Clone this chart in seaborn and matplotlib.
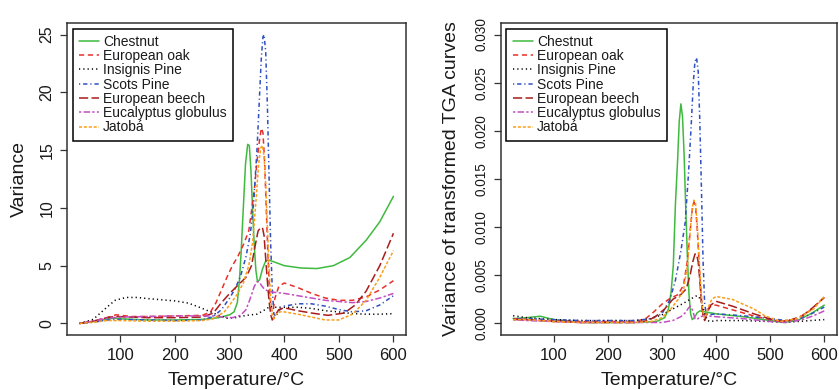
import matplotlib
matplotlib.use("Agg")
import matplotlib.pyplot as plt
import seaborn as sns
import pandas as pd

# ---------------- data (left panel: Variance) ----------------
names = ["Chestnut", "European oak", "Insignis Pine", "Scots Pine",
         "European beech", "Eucalyptus globulus", "Jatobá"]

chestnut_T = [25, 50, 75, 90, 100, 150, 200, 250, 280, 300, 308, 314, 318, 321, 325, 329, 333, 336, 339, 342,
              345, 348, 351, 355, 360, 365, 370, 380, 400, 430, 460, 490, 520, 550, 575, 600]
chestnut_V = [0, 0.15, 0.4, 0.45, 0.4, 0.3, 0.3, 0.35, 0.5, 0.75, 1.0, 1.8, 3.8, 6.2, 10.0, 13.8, 15.5, 15.4, 13.2, 9.8,
              6.8, 4.6, 3.6, 3.8, 4.7, 5.3, 5.5, 5.35, 5.0, 4.8, 4.75, 5.0, 5.7, 7.2, 8.8, 11.0]

oak_T = [25, 50, 75, 92, 120, 150, 200, 250, 265, 275, 285, 295, 305, 315, 325, 335, 345, 350, 355, 358,
         361, 364, 367, 370, 373, 376, 379, 383, 390, 400, 425, 450, 475, 500, 525, 550, 575, 600]
oak_V = [0, 0.2, 0.5, 0.75, 0.6, 0.6, 0.65, 0.7, 1.0, 1.8, 2.9, 4.0, 5.0, 5.8, 6.8, 8.0, 11.5, 14.0, 16.0, 16.9,
         16.5, 14.0, 10.0, 6.0, 2.8, 1.2, 1.0, 2.2, 3.2, 3.5, 3.1, 2.6, 2.2, 2.0, 2.0, 2.3, 2.9, 3.7]

insignis_T = [25, 50, 75, 90, 110, 130, 150, 175, 200, 225, 250, 265, 280, 295, 310, 330, 350, 365, 375, 385,
              400, 425, 450, 475, 500, 525, 550, 575, 600]
insignis_V = [0, 0.35, 1.4, 2.0, 2.25, 2.25, 2.15, 2.05, 1.95, 1.75, 1.3, 1.0, 0.7, 0.45, 0.5, 0.7, 0.8, 1.2, 1.5, 1.4,
              1.4, 1.4, 1.3, 1.1, 1.0, 0.85, 0.8, 0.8, 0.85]

scots_T = [25, 50, 75, 100, 150, 200, 250, 270, 285, 300, 310, 320, 330, 338, 344, 350, 354, 358, 361, 363,
           366, 369, 372, 375, 378, 381, 385, 390, 400, 425, 450, 475, 500, 525, 550, 575, 600]
scots_V = [0, 0.1, 0.3, 0.35, 0.3, 0.25, 0.3, 0.6, 1.2, 2.2, 3.0, 4.1, 5.8, 7.8, 10.5, 15.0, 19.0, 23.0, 24.8, 25.0,
           23.5, 19.0, 13.0, 7.0, 3.0, 0.8, 0.6, 1.1, 1.5, 1.7, 1.7, 1.5, 1.2, 1.0, 1.1, 1.6, 2.4]

beech_T = [25, 50, 75, 90, 120, 150, 200, 250, 270, 285, 300, 315, 330, 340, 347, 352, 356, 360, 363, 366,
           369, 372, 375, 378, 382, 390, 400, 425, 450, 480, 510, 530, 550, 575, 600]
beech_V = [0, 0.2, 0.5, 0.6, 0.55, 0.5, 0.5, 0.55, 0.9, 1.8, 2.6, 3.3, 4.0, 5.0, 6.8, 8.0, 8.25, 8.3, 7.6, 5.6,
           3.7, 2.0, 0.8, 0.3, 0.6, 1.2, 1.35, 1.1, 0.9, 0.7, 0.9, 1.6, 2.8, 5.0, 7.8]

eucal_T = [25, 50, 75, 100, 150, 200, 250, 270, 290, 305, 320, 330, 338, 345, 350, 354, 358, 363, 370, 380,
           400, 425, 450, 475, 500, 525, 550, 575, 600]
eucal_V = [0, 0.2, 0.45, 0.55, 0.6, 0.65, 0.65, 0.65, 0.55, 0.5, 0.7, 1.2, 2.2, 3.2, 3.6, 3.6, 3.3, 3.0, 2.8, 2.7,
           2.6, 2.4, 2.2, 2.0, 1.9, 1.8, 1.9, 2.2, 2.6]

jatoba_T = [25, 50, 75, 100, 150, 200, 250, 270, 290, 300, 315, 325, 335, 342, 348, 353, 357, 360, 363, 366,
            369, 372, 375, 378, 381, 385, 392, 400, 425, 450, 475, 500, 525, 550, 575, 600]
jatoba_V = [0, 0.1, 0.25, 0.25, 0.2, 0.2, 0.25, 0.4, 1.0, 1.6, 2.6, 3.5, 5.0, 7.0, 10.5, 13.8, 15.2, 15.4, 14.5, 12.0,
            8.5, 5.0, 2.2, 0.7, 0.4, 0.8, 1.0, 1.0, 0.8, 0.55, 0.3, 0.3, 0.8, 2.0, 4.0, 6.3]

# ---------------- data (right panel: variance of transformed TGA curves) ----------------
chestnut_T2 = [25, 50, 75, 100, 150, 200, 250, 290, 305, 312, 317, 321, 325, 329, 332, 335, 338, 341, 344, 347,
               350, 353, 356, 360, 365, 370, 380, 400, 450, 500, 525, 550, 575, 600]
chestnut_V2 = [0.0005, 0.0006, 0.00075, 0.0004, 0.0001, 0.0001, 0.0001, 0.0002, 0.0006, 0.0015, 0.0033, 0.0060,
               0.0125, 0.0170, 0.0210, 0.0228, 0.0215, 0.0175, 0.0120, 0.0070, 0.0030, 0.0010, 0.0004, 0.0006,
               0.0011, 0.0013, 0.0012, 0.0010, 0.0007, 0.0003, 0.0001, 0.0003, 0.0010, 0.0019]

oak_T2 = [25, 50, 100, 150, 200, 250, 270, 285, 300, 315, 330, 340, 347, 352, 356, 359, 362, 365, 368, 371,
          374, 377, 380, 385, 393, 400, 425, 450, 475, 500, 520, 550, 575, 600]
oak_V2 = [0.0005, 0.0004, 0.0003, 0.0002, 0.0002, 0.0002, 0.0005, 0.0012, 0.0020, 0.0026, 0.0030, 0.0040, 0.0065,
          0.0095, 0.0118, 0.0126, 0.0122, 0.0100, 0.0070, 0.0040, 0.0018, 0.0008, 0.0009, 0.0015, 0.0019, 0.0019,
          0.0015, 0.0011, 0.0007, 0.0004, 0.0002, 0.0005, 0.0014, 0.0027]

insignis_T2 = [25, 50, 100, 150, 200, 250, 280, 300, 320, 340, 355, 365, 372, 378, 384, 390, 400, 450, 500, 525,
               550, 575, 600]
insignis_V2 = [0.0008, 0.0006, 0.0004, 0.0003, 0.0003, 0.0003, 0.0005, 0.0009, 0.0015, 0.0021, 0.0026, 0.0029,
               0.0025, 0.0012, 0.0003, 0.0002, 0.0003, 0.0003, 0.0002, 0.0001, 0.0002, 0.0003, 0.0004]

scots_T2 = [25, 50, 100, 150, 200, 250, 280, 300, 315, 325, 335, 343, 349, 354, 358, 361, 364, 367, 370, 373,
            376, 379, 382, 388, 400, 450, 500, 530, 555, 580, 600]
scots_V2 = [0.0005, 0.0005, 0.0004, 0.0003, 0.0003, 0.0003, 0.0005, 0.0010, 0.0025, 0.0045, 0.0075, 0.0105,
            0.0155, 0.0205, 0.0250, 0.0272, 0.0276, 0.0262, 0.0210, 0.0140, 0.0065, 0.0020, 0.0010, 0.0009,
            0.0010, 0.0008, 0.0005, 0.0003, 0.0005, 0.0011, 0.0017]

beech_T2 = [25, 50, 100, 150, 200, 250, 275, 290, 305, 320, 335, 345, 352, 357, 361, 364, 367, 370, 373, 376,
            379, 383, 390, 400, 430, 470, 510, 530, 560, 580, 600]
beech_V2 = [0.0004, 0.0004, 0.0002, 0.0001, 0.0001, 0.0001, 0.0003, 0.0008, 0.0015, 0.0025, 0.0030, 0.0036,
            0.0050, 0.0064, 0.0072, 0.0072, 0.0064, 0.0045, 0.0022, 0.0008, 0.0003, 0.0010, 0.0019, 0.0023,
            0.0018, 0.0010, 0.0003, 0.0002, 0.0008, 0.0017, 0.0027]

eucal_T2 = [25, 50, 100, 150, 200, 250, 300, 320, 335, 343, 349, 353, 357, 361, 365, 370, 380, 400, 450, 500,
            530, 560, 580, 600]
eucal_V2 = [0.0004, 0.0003, 0.0002, 0.0001, 0.0001, 0.0001, 0.0001, 0.0003, 0.0007, 0.0011, 0.0016, 0.0018,
            0.0013, 0.0005, 0.0004, 0.0007, 0.0008, 0.0007, 0.0005, 0.0002, 0.0001, 0.0004, 0.0008, 0.0013]

jatoba_T2 = [25, 50, 100, 150, 200, 250, 280, 300, 315, 330, 340, 347, 352, 356, 359, 362, 365, 368, 371, 374,
             377, 380, 385, 392, 400, 430, 470, 490, 520, 550, 580, 600]
jatoba_V2 = [0.0004, 0.0004, 0.0002, 0.0001, 0.0001, 0.0001, 0.0002, 0.0006, 0.0014, 0.0025, 0.0035, 0.0060,
             0.0095, 0.0120, 0.0128, 0.0125, 0.0105, 0.0075, 0.0045, 0.0020, 0.0007, 0.0006, 0.0016, 0.0025,
             0.0028, 0.0025, 0.0015, 0.0008, 0.0002, 0.0005, 0.0015, 0.0028]

x_ticks = [100, 200, 300, 400, 500, 600]
y_ticks_left = [0, 5, 10, 15, 20, 25]
y_ticks_right = [0.000, 0.005, 0.010, 0.015, 0.020, 0.025, 0.030]

# ---------------- styles ----------------
colors = ["#3fba3f", "#e8302a", "#000000", "#2f4fc2", "#a81c1c", "#c24ec2", "#fa9e1a"]
dashes = [None, (3.4, 2.4), (0.8, 2.0), (0.8, 1.9, 2.8, 1.9), (6.0, 2.2), (1.5, 1.5, 4.2, 1.5), (2.0, 1.2)]

left_series = [(chestnut_T, chestnut_V), (oak_T, oak_V), (insignis_T, insignis_V), (scots_T, scots_V),
               (beech_T, beech_V), (eucal_T, eucal_V), (jatoba_T, jatoba_V)]
right_series = [(chestnut_T2, chestnut_V2), (oak_T2, oak_V2), (insignis_T2, insignis_V2), (scots_T2, scots_V2),
                (beech_T2, beech_V2), (eucal_T2, eucal_V2), (jatoba_T2, jatoba_V2)]

sns.set_style("white")
plt.rcParams["font.family"] = ["Liberation Sans", "DejaVu Sans"]

fig = plt.figure(figsize=(8.39, 3.90), dpi=100)
ax1 = fig.add_axes([67 / 839, 1 - 335 / 390, 339 / 839, 312 / 390])
ax2 = fig.add_axes([500.7 / 839, 1 - 335 / 390, 336 / 839, 312 / 390])


def draw(ax, series, yticks, ylim, ylabel, fmt, ysize, ypad):
    for (T, V), name, c, d in zip(series, names, colors, dashes):
        df = pd.DataFrame({"T": T, "V": V})
        sns.lineplot(data=df, x="T", y="V", ax=ax, color=c, linewidth=1.1, label=name,
                     estimator=None, sort=False)
        line = ax.lines[-1]
        if d is not None:
            line.set_dashes(d)
    ax.set_xlim(2, 623)
    ax.set_ylim(*ylim)
    ax.set_xticks(x_ticks)
    ax.set_yticks(yticks)
    ax.set_yticklabels([fmt.format(v) for v in yticks])
    ax.tick_params(axis="both", direction="out", length=5, width=0.9, color="#333333",
                   labelcolor="#1a1a1a", left=True, bottom=True, pad=4)
    ax.tick_params(axis="x", labelsize=12)
    ax.tick_params(axis="y", labelrotation=90, labelsize=ysize)
    for lab in ax.get_yticklabels():
        lab.set_va("center")
    ax.set_xlabel("Temperature/°C", fontsize=14, labelpad=7, color="#1a1a1a")
    ax.set_ylabel(ylabel, fontsize=14, labelpad=ypad, color="#1a1a1a")
    for s in ax.spines.values():
        s.set_visible(True)
        s.set_color("#333333")
        s.set_linewidth(1.1)
    leg = ax.legend(loc="upper left", fontsize=10.0, frameon=True, fancybox=False, framealpha=1,
                    edgecolor="black", borderaxespad=0.4, borderpad=0.45, labelspacing=0.02,
                    handlelength=1.45, handletextpad=0.3)
    leg.get_frame().set_linewidth(1.1)
    for t in leg.get_texts():
        t.set_color("#1a1a1a")


draw(ax1, left_series, y_ticks_left, (-1.0, 26.0), "Variance", "{:g}", 11.5, 8)
draw(ax2, right_series, y_ticks_right, (-0.0012, 0.0312), "Variance of transformed TGA curves", "{:.3f}", 9.8, 10)

fig.savefig("out.png", dpi=100)
